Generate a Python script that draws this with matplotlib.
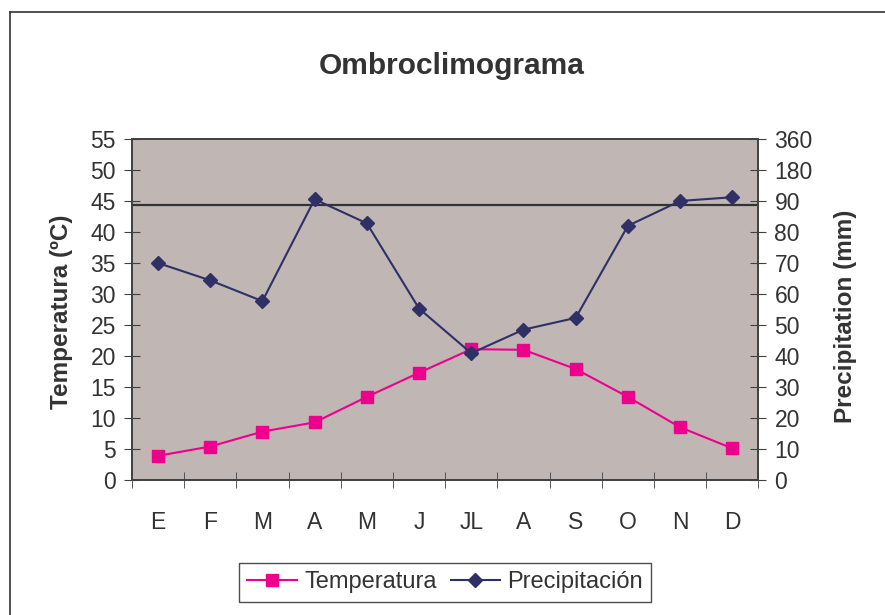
import numpy as np
import matplotlib
matplotlib.use("Agg")
import matplotlib.pyplot as plt
from matplotlib.lines import Line2D

plt.rcParams["font.family"] = ["Liberation Sans", "DejaVu Sans"]

# ── datos ────────────────────────────────────────────────────────────────
meses = ["E", "F", "M", "A", "M", "J", "JL", "A", "S", "O", "N", "D"]
temperatura = [3.9, 5.4, 7.8, 9.3, 13.4, 17.3, 21.1, 21.0, 17.9, 13.4, 8.5, 5.1]
precipitacion = [70, 64.4, 57.7, 95, 82.8, 55.3, 40.9, 48.5, 52.3, 82, 90, 101]

temp_ticks = [0, 5, 10, 15, 20, 25, 30, 35, 40, 45, 50, 55]
prec_ticks = [0, 10, 20, 30, 40, 50, 60, 70, 80, 90, 180, 360]
linea_ref = 44.4   # línea horizontal (escala izquierda)

TEXT = "#333333"
C_TEMP = "#EC008C"
C_PREC = "#2E3066"
FS = 16.5

fig = plt.figure(figsize=(8.85, 6.15), dpi=100)
ax = fig.add_axes([0.149, 0.2195, 0.708, 0.5545])
ax.set_facecolor("#C0B7B4")

# borde del área del gráfico (sólo arriba e izquierda visibles)
fig.add_artist(Line2D([0.011, 1.0], [0.980, 0.980], color="#333333", lw=1.2))
fig.add_artist(Line2D([0.011, 0.011], [0.0, 0.980], color="#333333", lw=1.2))

x = np.arange(len(meses))
# precipitación en la escala izquierda (eje derecho no lineal)
prec_y = np.interp(precipitacion, prec_ticks, temp_ticks)

ax.axhline(linea_ref, color="#333333", lw=1.6, zorder=2)
ax.plot(x, temperatura, color=C_TEMP, lw=1.5, marker="s", ms=8.5,
        label="Temperatura", zorder=3)
ax.plot(x, prec_y, color=C_PREC, lw=1.5, marker="D", ms=7.5,
        label="Precipitación", zorder=4)

ax.set_xlim(-0.5, len(meses) - 0.5)
ax.set_ylim(0, 55)
ax.set_yticks(temp_ticks)
ax.set_xticks(x)
ax.set_xticklabels(meses)
ax.set_xticks(np.arange(-0.5, len(meses)), minor=True)
ax.tick_params(axis="x", which="major", length=0, pad=22, labelsize=FS,
               labelcolor=TEXT)
ax.tick_params(axis="x", which="minor", direction="inout", length=11,
               color="#404040")
ax.tick_params(axis="y", direction="inout", length=11, color="#404040",
               labelsize=FS, labelcolor=TEXT, pad=6)
for s in ax.spines.values():
    s.set_color("#404040")
    s.set_linewidth(1.2)

ax2 = ax.twinx()
ax2.set_ylim(0, 55)
ax2.set_yticks(temp_ticks)
ax2.set_yticklabels([str(v) for v in prec_ticks])
ax2.tick_params(axis="y", direction="inout", length=11, color="#404040",
                labelsize=FS, labelcolor=TEXT, pad=6)
for s in ax2.spines.values():
    s.set_color("#404040")
    s.set_linewidth(1.2)

fig.text(0.070, 0.493, "Temperatura (ºC)", rotation=90, ha="center",
         va="center", fontsize=17.5, fontweight="bold", color=TEXT)
fig.text(0.955, 0.486, "Precipitation (mm)", rotation=90, ha="center",
         va="center", fontsize=17.5, fontweight="bold", color=TEXT)

fig.text(0.510, 0.892, "Ombroclimograma", ha="center", va="center",
         fontsize=21.5, fontweight="bold", color=TEXT)

leg = ax.legend(loc="center", bbox_to_anchor=(0.503, 0.053),
                bbox_transform=fig.transFigure, ncol=2, fontsize=17,
                frameon=True, fancybox=False, handlelength=2.1,
                handletextpad=0.3, columnspacing=0.6, borderpad=0.35,
                borderaxespad=0)
leg.get_frame().set_edgecolor("#222222")
leg.get_frame().set_linewidth(1.0)
for t in leg.get_texts():
    t.set_color(TEXT)

fig.savefig("out.png", dpi=100)
